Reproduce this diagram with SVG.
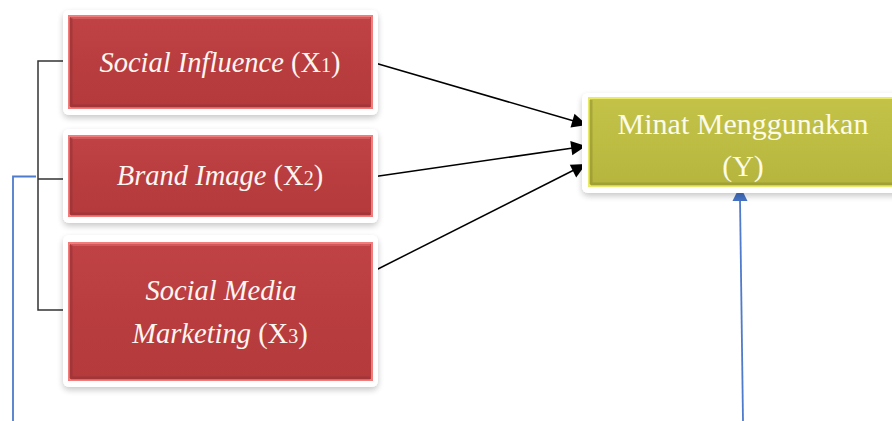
<svg xmlns="http://www.w3.org/2000/svg" width="892" height="421" viewBox="0 0 892 421">
  <defs>
    <filter id="soft" x="-10%" y="-20%" width="120%" height="150%">
      <feGaussianBlur in="SourceAlpha" stdDeviation="3"/>
      <feOffset dx="0" dy="3" result="b"/>
      <feComponentTransfer><feFuncA type="linear" slope="0.22"/></feComponentTransfer>
      <feMerge><feMergeNode/><feMergeNode in="SourceGraphic"/></feMerge>
    </filter>
    <linearGradient id="redV" x1="0" y1="0" x2="0" y2="1">
      <stop offset="0" stop-color="#c04244"/>
      <stop offset="0.5" stop-color="#b93d3f"/>
      <stop offset="1" stop-color="#b43a3c"/>
    </linearGradient>
    <linearGradient id="oliveV" x1="0" y1="0" x2="0" y2="1">
      <stop offset="0" stop-color="#c4c348"/>
      <stop offset="0.5" stop-color="#bdbc43"/>
      <stop offset="1" stop-color="#b5b43d"/>
    </linearGradient>
  </defs>
  <style>
    .frame { fill: #ffffff; filter: url(#soft); }
    .red { fill: url(#redV); stroke: #f07c7c; stroke-width: 2; }
    .olive { fill: url(#oliveV); stroke: #eaea6a; stroke-width: 2; }
    .hi { stroke: #d05a5b; stroke-width: 2; fill: none; }
    .lo { stroke: #8e3033; stroke-width: 3; fill: none; opacity: 0.5; }
    .olo { stroke: #8c8b2c; stroke-width: 3; fill: none; opacity: 0.5; }
    .lbl { font-family: "Liberation Serif", "Times New Roman", serif; font-size: 28.5px; fill: #fdf5f0; text-anchor: middle; }
    .it { font-style: italic; }
    .sub { font-size: 20px; }
    .ylbl { font-family: "Liberation Serif", "Times New Roman", serif; font-size: 30px; fill: #fbfbe8; text-anchor: middle; }
    .bracket { stroke: #333; stroke-width: 1.5; fill: none; }
    .blue { stroke: #4f7bcc; stroke-width: 1.8; fill: none; }
    .link { stroke: #000; stroke-width: 1.5; fill: none; }
    .headK { fill: #000; }
    .headB { fill: #4472c4; }
  </style>

  <!-- connectors -->
  <g id="connectors">
    <path class="blue" d="M13,421 L13,176.5 L36,176.5"/>
    <path class="bracket" d="M67,61 L38,61 L38,310 L69,310 M38,179 L67,179"/>
    <line class="link" x1="375" y1="63" x2="574" y2="121"/>
    <polygon class="headK" points="587,125 570.5,127.5 574.5,113.8"/>
    <line class="link" x1="372" y1="177" x2="573" y2="148"/>
    <polygon class="headK" points="586,146 572.3,155.2 570.3,141"/>
    <line class="link" x1="372" y1="272" x2="574" y2="170"/>
    <polygon class="headK" points="586,164 576.2,177.5 569.8,164.7"/>
    <line class="blue" x1="743" y1="421" x2="740" y2="199"/>
    <polygon class="headB" points="740,186 747.5,201 732.5,201"/>
  </g>

  <!-- Social Influence -->
  <g id="x1">
    <rect class="frame" x="63" y="10" width="315" height="105" rx="6"/>
    <rect class="red" x="69" y="16" width="303" height="92"/>
    <path class="hi" d="M71,18 L370,18"/>
    <path class="lo" d="M71,106 L370,106 M71,18 L71,106"/>
    <text class="lbl" x="220" y="72"><tspan class="it">Social Influence</tspan> (X<tspan class="sub">1</tspan>)</text>
  </g>

  <!-- Brand Image -->
  <g id="x2">
    <rect class="frame" x="63" y="129" width="315" height="94" rx="6"/>
    <rect class="red" x="69" y="136" width="303" height="80"/>
    <path class="hi" d="M71,138 L370,138"/>
    <path class="lo" d="M71,214 L370,214 M71,138 L71,214"/>
    <text class="lbl" x="220" y="185"><tspan class="it">Brand Image</tspan> (X<tspan class="sub">2</tspan>)</text>
  </g>

  <!-- Social Media Marketing -->
  <g id="x3">
    <rect class="frame" x="63" y="235" width="315" height="152" rx="6"/>
    <rect class="red" x="69" y="243" width="303" height="137"/>
    <path class="hi" d="M71,245 L370,245"/>
    <path class="lo" d="M71,378 L370,378 M71,245 L71,378"/>
    <text class="lbl" x="221" y="300"><tspan class="it">Social Media</tspan></text>
    <text class="lbl" x="220" y="343"><tspan class="it">Marketing</tspan> (X<tspan class="sub">3</tspan>)</text>
  </g>

  <!-- Minat Menggunakan -->
  <g id="y">
    <rect class="frame" x="582" y="93" width="320" height="100" rx="6"/>
    <rect class="olive" x="589" y="98" width="310" height="88"/>
    <path class="olo" d="M591,184 L899,184 M591,100 L591,184"/>
    <text class="ylbl" x="743" y="134">Minat Menggunakan</text>
    <text class="ylbl" x="743" y="176">(Y)</text>
  </g>
</svg>
